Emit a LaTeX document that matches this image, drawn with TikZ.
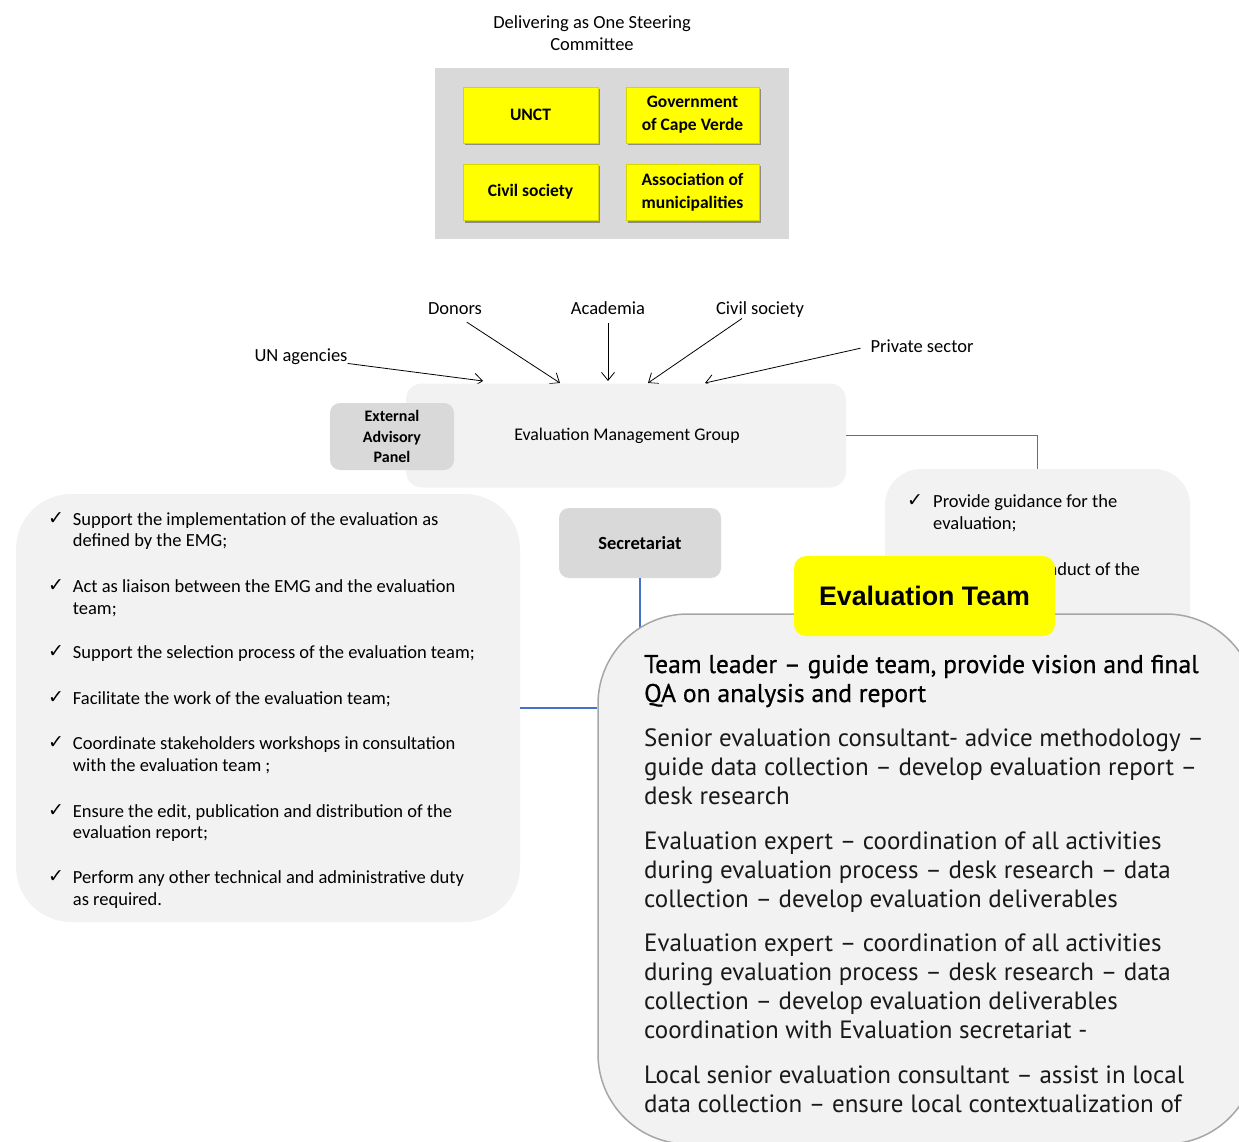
\documentclass[tikz,border=0pt]{standalone}
\usepackage{fontspec}
\setmainfont{Carlito}
\newfontfamily\symf{DejaVu Sans}
\newfontfamily\ptsans{PT Sans}
\newfontfamily\ptsansb[FakeBold=0.7]{PT Sans}
\newfontfamily\arialf{Liberation Sans}
\usetikzlibrary{arrows.meta,shadows,calc}
\definecolor{ylw}{RGB}{255,255,0}
\definecolor{ylwedge}{RGB}{215,215,0}
\definecolor{gD9}{RGB}{217,217,217}
\definecolor{gF2}{RGB}{242,242,242}
\definecolor{gborder}{RGB}{166,166,166}
\definecolor{lnblue}{RGB}{68,114,196}
\newcommand\chkm{{\symf\fontsize{19}{19}\selectfont ✓}}
\tikzset{
  ybox/.style={fill=ylw, draw=ylwedge, line width=0.8pt, minimum width=135pt, minimum height=56pt,
    inner sep=0pt, font=\bfseries\fontsize{17.5}{23}\selectfont, align=center,
    drop shadow={shadow xshift=1.5pt, shadow yshift=-2.5pt, opacity=0.35, fill=black}},
  lbl/.style={font=\fontsize{18.5}{22}\selectfont, inner sep=0pt, text height=12.5pt, text depth=0pt},
  arr/.style={-{Straight Barb[length=8pt,width=13pt]}, line width=0.8pt},
  bluel/.style={draw=lnblue, line width=1.2pt},
  lt/.style={font=\fontsize{18.5}{22}\selectfont, inner sep=0pt, anchor=base west},
  bt/.style={font=\ptsans\fontsize{25}{29}\selectfont, inner sep=0pt, anchor=base west, text=black!90},
  btb/.style={font=\ptsansb\fontsize{25.6}{29}\selectfont, inner sep=0pt, anchor=base west},
  ck/.style={inner sep=0pt, anchor=base west}
}
\begin{document}
\begin{tikzpicture}[x=1pt,y=-1pt]
\useasboundingbox (0,0) rectangle (1239,1142);
\clip (0,0) rectangle (1239,1142);

% title and steering committee
\node[font=\fontsize{18.5}{22}\selectfont, align=center, inner sep=0pt] (title) at (592,33) {Delivering as One Steering\\Committee};
\node[fill=gD9, minimum width=354pt, minimum height=171pt, inner sep=0pt] (sc) at (612,153.5) {};
\node[ybox] (unct) at (530.5,115) {UNCT};
\node[ybox, minimum width=133pt] (gov) at (692.5,115) {Government\\of Cape Verde};
\node[ybox] (civ1) at (530.5,192) {Civil society};
\node[ybox, minimum width=133pt] (assoc) at (692.5,192) {Association of\\municipalities};

% stakeholder labels
\node[lbl] (donors) at (455,308) {Donors};
\node[lbl] (acad) at (608,308) {Academia};
\node[lbl] (civ2) at (760,308) {Civil society};
\node[lbl] (unag) at (301,355) {UN agencies};
\node[lbl] (priv) at (922,346) {Private sector};

% arrow targets on the EMG
\coordinate (tU) at (483,381);
\coordinate (tD) at (560,383);
\coordinate (tA) at (608,381);
\coordinate (tC) at (648,383);
\coordinate (tP) at (705,383);
\draw[arr] ($(unag.south east)+(0,2)$) -- (tU);
\draw[arr, shorten <=14pt] (donors.south) -- (tD);
\draw[arr, shorten <=9pt] (acad.south) -- (tA);
\draw[arr] ($(civ2.south)+(-18,4)$) -- (tC);
\draw[arr, shorten <=10pt] (priv.west) -- (tP);

% main boxes
\node[fill=gF2, rounded corners=16pt, minimum width=440pt, minimum height=104pt, inner sep=0pt] (emg) at (626,435.5) {};
\node[font=\fontsize{17.8}{20}\selectfont, inner sep=0pt] (emgt) at (627,436) {Evaluation Management Group};
\node[fill=gD9, rounded corners=10pt, minimum width=124pt, minimum height=67pt, inner sep=0pt,
  font=\bfseries\fontsize{16}{20.5}\selectfont, align=center] (eap) at (392,436.5) {External\\Advisory\\Panel};

\node[fill=gF2, rounded corners=36pt, minimum width=305pt, minimum height=251pt, inner sep=0pt] (guide) at (1037.5,594.5) {};
\draw[bluel] (emg.east) -| (guide.north);
\node[ck] (gc1) at (907,506.5) {\chkm};
\node[lt] (g1a) at (933,507) {Provide guidance for the};
\node[lt] (g1b) at (933,529) {evaluation;};
\node[lt, anchor=base east] (g2a) at (1140,575) {nduct of the};

\node[fill=gD9, rounded corners=10pt, minimum width=162pt, minimum height=70pt, inner sep=0pt,
  font=\bfseries\fontsize{18.5}{20}\selectfont] (sec) at (640,543) {Secretariat};

\node[fill=gF2, rounded corners=55pt, minimum width=504pt, minimum height=428pt, inner sep=0pt] (lb) at (268,708) {};
\draw[bluel] (sec.south) -- (sec.south |- lb.east);

% left list
\node[ck] (k1) at (48,524.5) {\chkm};
\node[lt] (l1a) at (72.7,525.7) {Support the implementation of the evaluation as};
\node[lt] (l1b) at (72.7,546.7) {defined by the EMG;};
\node[ck] (k2) at (48,591.3) {\chkm};
\node[lt] (l2a) at (72.7,592.3) {Act as liaison between the EMG and the evaluation};
\node[lt] (l2b) at (72.7,614) {team;};
\node[ck] (k3) at (48,657.3) {\chkm};
\node[lt] (l3a) at (72.7,658.3) {Support the selection process of the evaluation team;};
\node[ck] (k4) at (48,703.3) {\chkm};
\node[lt] (l4a) at (72.7,704.3) {Facilitate the work of the evaluation team;};
\node[ck] (k5) at (48,748.3) {\chkm};
\node[lt] (l5a) at (72.7,749.3) {Coordinate stakeholders workshops in consultation};
\node[lt] (l5b) at (72.7,771) {with the evaluation team ;};
\node[ck] (k6) at (48,816.7) {\chkm};
\node[lt] (l6a) at (72.7,817.7) {Ensure the edit, publication and distribution of the};
\node[lt] (l6b) at (72.7,838.3) {evaluation report;};
\node[ck] (k7) at (48,882.3) {\chkm};
\node[lt] (l7a) at (72.7,883.3) {Perform any other technical and administrative duty};
\node[lt] (l7b) at (72.7,905) {as required.};

% evaluation team box
\node[fill=gF2, draw=gborder, line width=1.5pt, rounded corners=90pt, minimum width=658pt, minimum height=530pt, inner sep=0pt] (big) at (927,879) {};
\draw[bluel] (lb.east) -- (lb.east -| big.west);

\node[btb] (b1a) at (644,673) {Team leader – guide team, provide vision and final};
\node[btb] (b1b) at (644,702) {QA on analysis and report};
\node[bt] (b2a) at (644,746) {Senior evaluation consultant- advice methodology –};
\node[bt] (b2b) at (644,775) {guide data collection – develop evaluation report –};
\node[bt] (b2c) at (644,804) {desk research};
\node[bt] (b3a) at (644,849) {Evaluation expert – coordination of all activities};
\node[bt] (b3b) at (644,878) {during evaluation process – desk research – data};
\node[bt] (b3c) at (644,907) {collection – develop evaluation deliverables};
\node[bt] (b4a) at (644,951) {Evaluation expert – coordination of all activities};
\node[bt] (b4b) at (644,980) {during evaluation process – desk research – data};
\node[bt] (b4c) at (644,1009) {collection – develop evaluation deliverables};
\node[bt] (b4d) at (644,1038) {coordination with Evaluation secretariat -};
\node[bt] (b5a) at (644,1083) {Local senior evaluation consultant – assist in local};
\node[bt] (b5b) at (644,1112) {data collection – ensure local contextualization of};

\node[fill=ylw, rounded corners=12pt, minimum width=261pt, minimum height=80pt, inner sep=0pt,
  font=\arialf\bfseries\fontsize{26.8}{30}\selectfont] (et) at (924.5,596) {Evaluation Team};
\end{tikzpicture}
\end{document}
